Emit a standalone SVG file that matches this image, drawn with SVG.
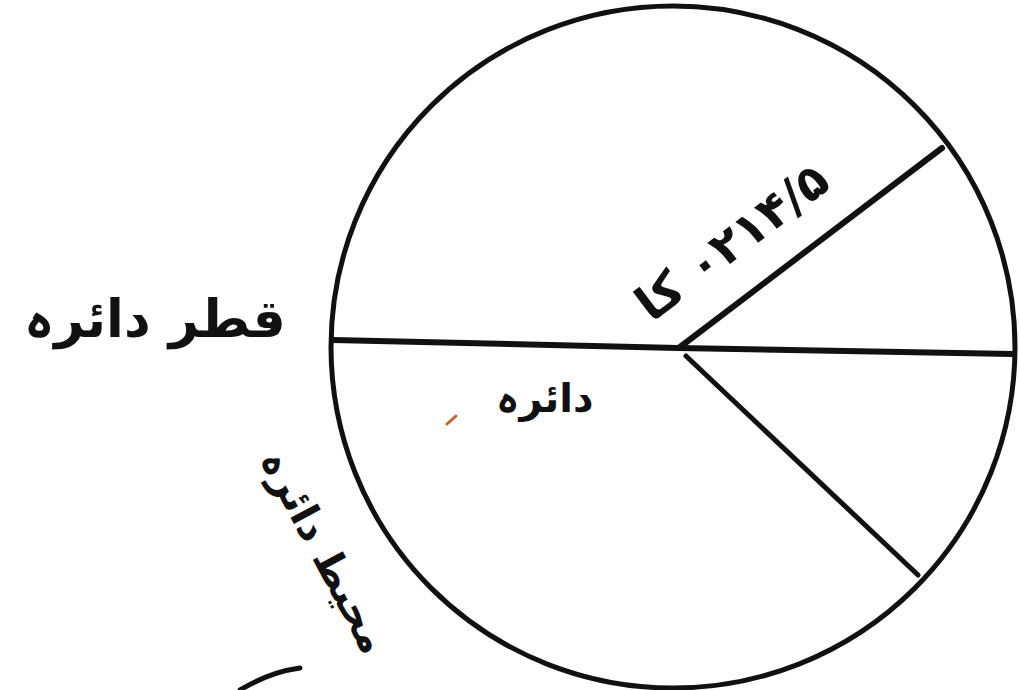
<svg xmlns="http://www.w3.org/2000/svg" width="1020" height="690" viewBox="0 0 1020 690">
<style>
.ln{fill:none;stroke:#111;stroke-linecap:round;stroke-linejoin:round}
.lb{font-family:"DejaVu Sans","Noto Sans",sans-serif;fill:#111;font-weight:bold}
</style>
<rect width="1020" height="690" fill="#fff"/>
<g id="circle">
<ellipse class="ln" cx="673" cy="347" rx="342" ry="341" stroke-width="5"/>
</g>
<g id="connectors">
<polyline class="ln" points="333,340 678,348 1013,354" stroke-width="6"/>
<line class="ln" x1="680" y1="347" x2="942" y2="148" stroke-width="6"/>
<line class="ln" x1="686" y1="356" x2="918" y2="575" stroke-width="5"/>
<path class="ln" d="M240,690 Q270,672 300,668" stroke-width="5"/>
<path d="M447,424 L456,416" stroke="#c0602a" stroke-width="3" stroke-linecap="round"/>
</g>
<g id="label-diameter">
<text class="lb" x="155" y="337" font-size="52" text-anchor="middle" direction="rtl">قطر دائرہ</text>
</g>
<g id="label-center">
<text class="lb" x="545" y="412" font-size="40" text-anchor="middle" direction="rtl">دائرہ</text>
</g>
<g id="label-radius">
<text class="lb" font-size="48" text-anchor="middle" direction="rtl" transform="translate(742,255) rotate(-37)">۰۲۱۴/۵ کا</text>
</g>
<g id="label-circumference">
<text class="lb" font-size="40" text-anchor="middle" direction="rtl" transform="translate(312,558) rotate(62)">محیط دائرہ</text>
</g>
</svg>
